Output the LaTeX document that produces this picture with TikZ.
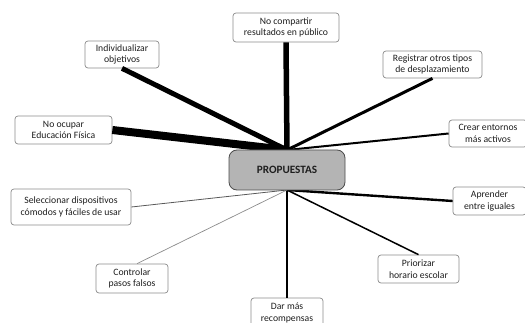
\documentclass[tikz,border=0pt]{standalone}
\usepackage{fontspec}
\setmainfont{Carlito}
\definecolor{boxline}{HTML}{8C8C8C}
\definecolor{txt}{HTML}{1E1E1E}
\definecolor{hubfill}{HTML}{B4B4B4}
\begin{document}
\begin{tikzpicture}[x=1pt,y=-1pt,
  prop/.style={draw=boxline, line width=0.7pt, rounded corners=3pt, fill=white,
    align=center, inner sep=0pt, text=txt,
    font=\fontsize{9.7}{11.5}\selectfont},
  hub/.style={draw=black!70, line width=0.8pt, rounded corners=8pt, fill=hubfill,
    inner sep=0pt, minimum width=116pt, minimum height=40pt,
    font=\fontsize{11.2}{12}\selectfont\bfseries, text=txt},
  link/.style={black, line cap=butt}
]
\useasboundingbox (0,0) rectangle (525,323);
\clip (0,0) rectangle (525,323);
\coordinate (hubT) at (287,150);
\coordinate (hubB) at (287,190);

\node[prop, minimum width=106pt, minimum height=29pt] (comp) at (286,27.5) {No compartir\\resultados en público};
\node[prop, minimum width=74pt, minimum height=27pt] (indiv) at (122,54.5) {Individualizar\\objetivos};
\node[prop, minimum width=97pt, minimum height=28pt] (ocup) at (63.5,130) {No ocupar\\Educación Física};
\node[prop, minimum width=99pt, minimum height=27pt] (reg) at (432.5,64.5) {Registrar otros tipos\\de desplazamiento};
\node[prop, minimum width=78pt, minimum height=27pt] (crear) at (488,133.5) {Crear entornos\\más activos};
\node[prop, minimum width=73pt, minimum height=28pt] (apr) at (489.5,201) {Aprender\\entre iguales};
\node[prop, minimum width=81pt, minimum height=28pt] (prio) at (418.5,269) {Priorizar\\horario escolar};
\node[prop, minimum width=72pt, minimum height=30pt] (dar) at (287,313) {Dar más\\recompensas};
\node[prop, minimum width=72pt, minimum height=29pt] (ctrl) at (132,278.5) {Controlar\\pasos falsos};
\node[prop, minimum width=120pt, minimum height=36pt] (sel) at (71,207) {Seleccionar dispositivos\\cómodos y fáciles de usar};

\draw[link, line width=5.5pt] (comp.south) -- (hubT);
\draw[link, line width=5pt] (indiv.south) -- (hubT);
\draw[link, line width=8pt] (ocup.east) -- (hubT);
\draw[link, line width=3pt] (reg.south) -- (hubT);
\draw[link, line width=2pt] (crear.west) -- (hubT);
\draw[link, line width=2.4pt] (apr.west) -- (hubB);
\draw[link, line width=1.5pt] (prio.north) -- (hubB);
\draw[link, line width=2pt] (dar.north) -- (hubB);
\draw[link, draw=black!45, line width=0.7pt] ([xshift=5pt]ctrl.north) -- (hubB);
\draw[link, draw=black!65, line width=0.8pt] (sel.east) -- (hubB);

\node[hub] (P) at (287,170) {PROPUESTAS};
\end{tikzpicture}
\end{document}
